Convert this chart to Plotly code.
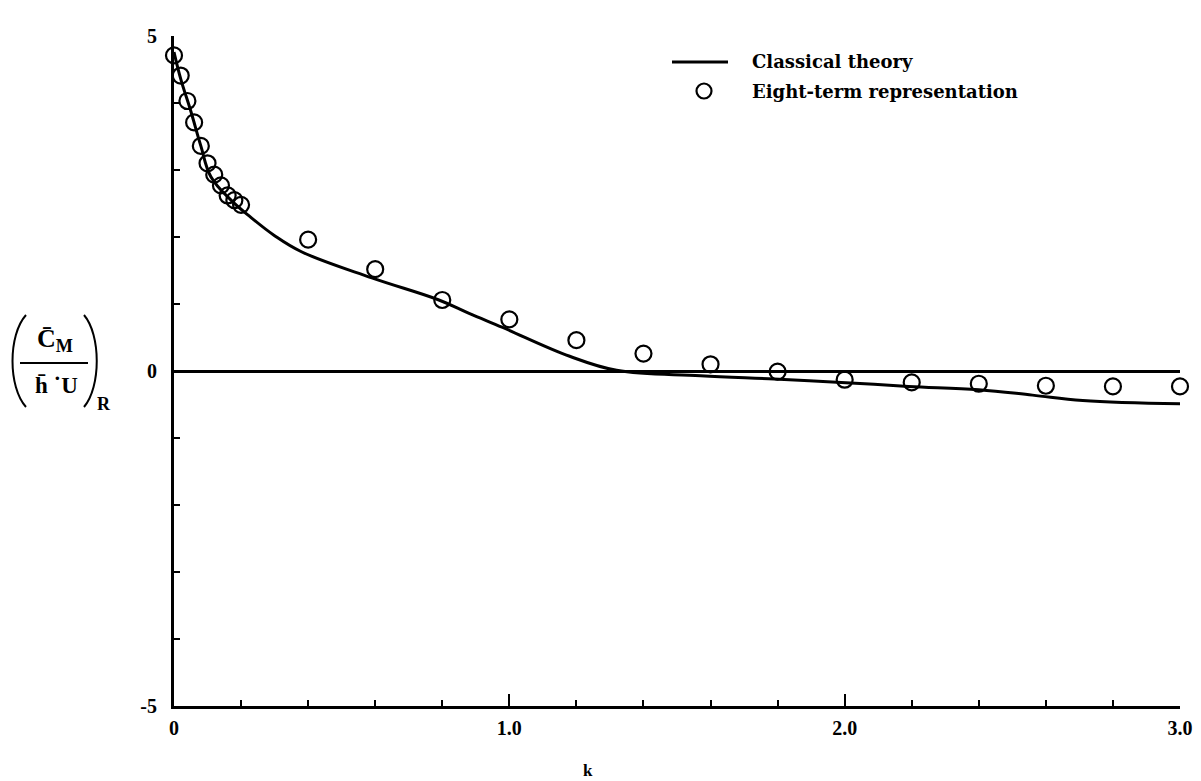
import plotly.graph_objects as go

# ---- data ----
k_theory = [0, 0.02, 0.05, 0.08, 0.11, 0.17, 0.23, 0.30, 0.38, 0.59, 0.79, 0.88,
            0.98, 1.18, 1.32, 1.57, 1.79, 1.99, 2.19, 2.40, 2.56, 2.71, 3.0]
cm_theory = [4.76, 4.36, 3.88, 3.36, 2.90, 2.55, 2.29, 2.02, 1.78, 1.39, 1.06, 0.86,
             0.65, 0.22, 0.01, -0.07, -0.12, -0.17, -0.23, -0.28, -0.36, -0.44, -0.49]

k_eight = [0, 0.02, 0.04, 0.06, 0.08, 0.10, 0.12, 0.14, 0.16, 0.18, 0.20,
           0.4, 0.6, 0.8, 1.0, 1.2, 1.4, 1.6, 1.8, 2.0, 2.2, 2.4, 2.6, 2.8, 3.0]
cm_eight = [4.71, 4.41, 4.03, 3.71, 3.36, 3.10, 2.93, 2.77, 2.62, 2.55, 2.48,
            1.96, 1.52, 1.06, 0.77, 0.46, 0.26, 0.10, -0.01, -0.13, -0.17, -0.19,
            -0.22, -0.23, -0.23]

x_tickvals = [0, 1, 2, 3]
x_ticktext = ["0", "1.0", "2.0", "3.0"]
y_tickvals = [-5, 0, 5]
y_ticktext = ["-5", "0", "5"]

legend_names = ["Classical theory", "Eight-term representation"]

# ---- layout geometry (page body has an 8px margin) ----
O = 8
W, H = 1201 - O, 781 - O
L, R, T, B = 174 - O, 21, 36 - O, 75
PW, PH = W - L - R, H - T - B


def px(x):
    return (x - O - L) / PW


def py(y):
    return (H + O - B - y) / PH


FONT = "Liberation Serif"
LFONT = "DejaVu Serif"

fig = go.Figure()
fig.add_trace(go.Scatter(x=k_theory, y=cm_theory, mode="lines",
                         line=dict(color="black", width=3, shape="spline", smoothing=1.1),
                         name=legend_names[0], showlegend=False, cliponaxis=False))
fig.add_trace(go.Scatter(x=k_eight, y=cm_eight, mode="markers",
                         marker=dict(symbol="circle-open", size=16, color="black",
                                     line=dict(width=2.2, color="black")),
                         name=legend_names[1], showlegend=False, cliponaxis=False))

tickfont = dict(family=FONT, size=20, weight="bold", color="black")

fig.update_layout(
    width=W, height=H,
    margin=dict(l=L, r=R, t=T, b=B, autoexpand=False),
    paper_bgcolor="white", plot_bgcolor="white",
    font=dict(family=FONT, size=19, color="black"),
    xaxis=dict(range=[0, 3], tickvals=x_tickvals, ticktext=x_ticktext,
               ticks="inside", ticklen=12, tickwidth=2, tickcolor="black",
               showgrid=False, zeroline=False,
               showline=True, linecolor="black", linewidth=3,
               minor=dict(dtick=0.2, ticks="inside", ticklen=6, tickwidth=2,
                          tickcolor="black", showgrid=False),
               tickfont=tickfont, ticklabelstandoff=2),
    yaxis=dict(range=[-5, 5], tickvals=y_tickvals, ticktext=y_ticktext,
               ticks="inside", ticklen=6, tickwidth=2, tickcolor="black",
               showgrid=False, zeroline=True, zerolinecolor="black", zerolinewidth=3,
               showline=True, linecolor="black", linewidth=3,
               minor=dict(dtick=1, ticks="inside", ticklen=6, tickwidth=2,
                          tickcolor="black", showgrid=False),
               tickfont=tickfont, ticklabelstandoff=10),
)


def note(x, y, text, size, family=FONT, xanchor="center"):
    return dict(x=px(x), y=py(y), xref="paper", yref="paper", text=text,
                showarrow=False, xanchor=xanchor, yanchor="middle",
                font=dict(family=family, size=size, color="black"))


ann = []
shapes = []
# x axis title
ann.append(note(588, 770, "<b>k</b>", 17))
# y axis label pieces
ann.append(note(55, 340, "<b>C\u0304<sub>M</sub></b>", 26))
ann.append(note(56, 385, "<b>h\u0304 \u02d9U</b>", 23))
ann.append(note(104, 404, "<b>R</b>", 18))
shapes.append(dict(type="line", xref="paper", yref="paper",
                   x0=px(20), x1=px(88), y0=py(363), y1=py(363),
                   line=dict(color="black", width=2)))
shapes.append(dict(type="path", xref="paper", yref="paper",
                   path=f"M {px(26)},{py(315)} C {px(8)},{py(335)} {px(8)},{py(387)} {px(26)},{py(407)}",
                   line=dict(color="black", width=2)))
shapes.append(dict(type="path", xref="paper", yref="paper",
                   path=f"M {px(84)},{py(315)} C {px(101)},{py(335)} {px(101)},{py(387)} {px(84)},{py(407)}",
                   line=dict(color="black", width=2)))
# legend
shapes.append(dict(type="line", xref="paper", yref="paper",
                   x0=px(672), x1=px(728), y0=py(62), y1=py(62),
                   line=dict(color="black", width=3)))
shapes.append(dict(type="circle", xref="paper", yref="paper",
                   x0=px(696.5), x1=px(711.5), y0=py(83.5), y1=py(98.5),
                   line=dict(color="black", width=2.2)))
ann.append(note(750, 61, "<b>" + legend_names[0] + "</b>", 18, LFONT, "left"))
ann.append(note(750, 91, "<b>" + legend_names[1] + "</b>", 18, LFONT, "left"))

fig.update_layout(annotations=ann, shapes=shapes)
fig.write_html("out.html")
